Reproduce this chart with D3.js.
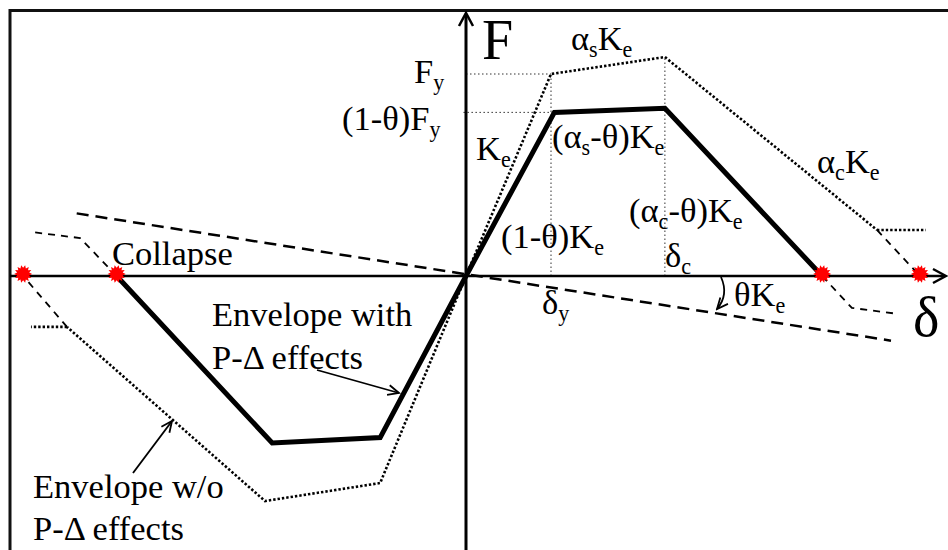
<!DOCTYPE html>
<html>
<head>
<meta charset="utf-8">
<script src="https://cdn.jsdelivr.net/npm/d3@7"></script>
<style>
  html, body { margin: 0; padding: 0; background: #fff; }
  svg { display: block; }
  text { font-family: "Liberation Serif", "Times New Roman", serif; fill: #000; }
</style>
</head>
<body>
<svg id="chart" width="948" height="550"></svg>
<script>
// Backbone curve in normalised units: displacement / δy and force / Fy
const withPDelta = [[-4.11, 0], [-2.28, -0.827], [-1.01, -0.80], [0, 0], [1.04, 0.81], [2.34, 0.83], [4.19, 0]];
const withoutPDeltaPos = [[0, 0], [1, 1], [2.34, 1.084], [4.835, 0.228]];
const withoutPDeltaNeg = [[0, 0], [-1.01, -1.025], [-2.365, -1.114], [-4.694, -0.252]];
const residualPos = [[4.835, 0.228], [5.41, 0.228]];
const residualNeg = [[-4.694, -0.252], [-5.118, -0.252]];
const dropPos = [[4.835, 0.228], [5.34, 0]];
const dropNeg = [[-4.694, -0.252], [-5.21, 0]];
const postCollapsePos = [[4.19, 0], [4.54, -0.158], [5.09, -0.188]];
const postCollapseNeg = [[-4.11, 0], [-4.54, 0.188], [-5.118, 0.218]];
const pDeltaLine = [[-4.58, 0.31], [5.0, -0.32]];
const collapsePoints = [[-5.21, 0], [-4.11, 0], [4.19, 0], [5.34, 0]];
// Reference levels: yield and capping points
const yieldPoint = [1, 1];
const reducedYield = [1.04, 0.81];
const capPoint = [2.34, 1.084];

const svg = d3.select("#chart");
const x = d3.scaleLinear().domain([0, 1]).range([466, 551]);
const y = d3.scaleLinear().domain([-1, 1]).range([478, 74]);
const line = d3.line().x(d => x(d[0])).y(d => y(d[1]));

// outer frame
svg.append("rect").attr("x", 10).attr("y", 10.5).attr("width", 960).attr("height", 560)
  .attr("fill", "none").attr("stroke", "#111").attr("stroke-width", 3);

// arrowhead marker
const defs = svg.append("defs");
defs.append("marker").attr("id", "open").attr("viewBox", "-12 -7 14 14")
  .attr("refX", 0).attr("refY", 0).attr("markerWidth", 14).attr("markerHeight", 14)
  .attr("markerUnits", "userSpaceOnUse").attr("orient", "auto")
  .append("path").attr("d", "M-11,-5 L0,0 L-11,5").attr("fill", "none")
  .attr("stroke", "#000").attr("stroke-width", 1.8);

// guide lines for Fy, (1-θ)Fy, δy and δc
const guides = [
  [[0, yieldPoint[1]], yieldPoint],
  [[-0.03, reducedYield[1]], reducedYield],
  [[yieldPoint[0], 0], yieldPoint],
  [[capPoint[0], 0], capPoint]
];
svg.selectAll(".guide").data(guides).join("path").attr("class", "guide")
  .attr("d", line).attr("fill", "none").attr("stroke", "#333")
  .attr("stroke-width", 1).attr("stroke-dasharray", "1.5,2.5");

// axes
const axisG = svg.append("g").attr("stroke", "#000").attr("fill", "none");
axisG.append("line").attr("x1", 10).attr("x2", 945).attr("y1", y(0)).attr("y2", y(0)).attr("stroke-width", 2.5);
axisG.append("line").attr("x1", x(0)).attr("x2", x(0)).attr("y1", 550).attr("y2", 14).attr("stroke-width", 3);
axisG.append("path").attr("d", `M${933},${y(0) - 7} L946,${y(0)} L${933},${y(0) + 7}`).attr("stroke-width", 2.5);
axisG.append("path").attr("d", `M${x(0) - 7},26 L${x(0)},13 L${x(0) + 7},26`).attr("stroke-width", 2.5);

// P-Δ stability line
svg.append("path").attr("d", line(pDeltaLine)).attr("fill", "none").attr("stroke", "#000")
  .attr("stroke-width", 2.5).attr("stroke-dasharray", "12,7");

// envelope without P-Δ
[withoutPDeltaPos, withoutPDeltaNeg, residualPos, residualNeg].forEach(d => {
  svg.append("path").attr("d", line(d)).attr("fill", "none").attr("stroke", "#000")
    .attr("stroke-width", 2.6).attr("stroke-dasharray", "2.4,2");
});
// drops to collapse
[dropPos, dropNeg, postCollapsePos, postCollapseNeg].forEach(d => {
  svg.append("path").attr("d", line(d)).attr("fill", "none").attr("stroke", "#000")
    .attr("stroke-width", 1.8).attr("stroke-dasharray", "7,6");
});

// envelope with P-Δ
svg.append("path").attr("d", line(withPDelta)).attr("fill", "none").attr("stroke", "#000")
  .attr("stroke-width", 5).attr("stroke-linejoin", "miter");

// collapse markers (starbursts)
const burst = (() => {
  const n = 14, ro = 9, ri = 6.2, pts = [];
  for (let i = 0; i < 2 * n; i++) {
    const a = Math.PI * i / n, r = i % 2 ? ri : ro;
    pts.push([r * Math.cos(a), r * Math.sin(a)]);
  }
  return "M" + pts.map(p => p.join(",")).join("L") + "Z";
})();
svg.selectAll(".collapse").data(collapsePoints).join("path").attr("class", "collapse")
  .attr("d", burst).attr("fill", "#ff0000")
  .attr("transform", d => `translate(${x(d[0])},${y(d[1]) - 2})`);

// text helper: segments are [text, subscript?]
function label(px, py, segs, size, anchor) {
  const t = svg.append("text").attr("x", px).attr("y", py)
    .attr("font-size", size).attr("text-anchor", anchor || "start");
  let low = false;
  segs.forEach(([s, sub]) => {
    const ts = t.append("tspan").text(s);
    if (sub && !low) { ts.attr("dy", size * 0.2).attr("font-size", size * 0.64); low = true; }
    else if (sub) { ts.attr("font-size", size * 0.64); }
    else if (!sub && low) { ts.attr("dy", -size * 0.2); low = false; }
  });
  return t;
}

const fs = 34.5;
label(482, 59, [["F"]], 56);
label(913, 336, [["δ"]], 56);
label(414, 83, [["F"], ["y", 1]], fs);
label(342, 130, [["(1-θ)F"], ["y", 1]], fs);
label(571, 50, [["α"], ["s", 1], ["K"], ["e", 1]], fs);
label(476, 160, [["K"], ["e", 1]], fs);
label(552, 148, [["(α"], ["s", 1], ["-θ)K"], ["e", 1]], fs);
label(817, 173, [["α"], ["c", 1], ["K"], ["e", 1]], fs);
label(629, 222, [["(α"], ["c", 1], ["-θ)K"], ["e", 1]], fs);
label(501, 248, [["(1-θ)K"], ["e", 1]], fs);
label(665, 267, [["δ"], ["c", 1]], fs);
label(542, 314, [["δ"], ["y", 1]], fs);
label(734, 306, [["θK"], ["e", 1]], fs);
label(112, 265, [["Collapse"]], fs);
label(212, 326, [["Envelope with"]], fs);
label(212, 369, [["P-Δ effects"]], fs);
label(33, 498, [["Envelope w/o"]], fs);
label(33, 540, [["P-Δ effects"]], fs);

// callout arrows
const arrows = svg.append("g").attr("fill", "none").attr("stroke", "#000").attr("stroke-width", 1.8);
arrows.append("path").attr("d", "M317,370 L399,393").attr("marker-end", "url(#open)");
arrows.append("path").attr("d", "M133,473 L172,421").attr("marker-end", "url(#open)");
arrows.append("path").attr("d", "M721,277 Q729,295 717,309").attr("marker-end", "url(#open)");
</script>
</body>
</html>
